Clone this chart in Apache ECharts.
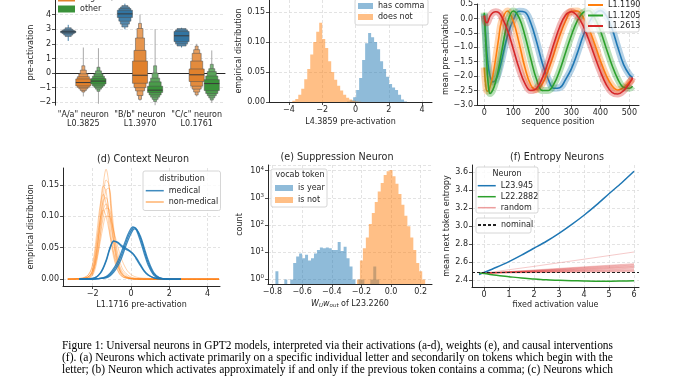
<!DOCTYPE html>
<html><head><meta charset="utf-8"><title>Universal neurons in GPT2</title>
<script src="https://cdn.jsdelivr.net/npm/echarts@6.0.0/dist/echarts.min.js"></script>
<style>html,body{margin:0;padding:0;background:#fff}#chart{width:678px;height:381px}</style>
</head><body><div id="chart"></div>
<script>
// ---------------- (a) letter neurons : boxen plots ----------------
const aCategories = ['"A/a" neuron\nL0.3825', '"B/b" neuron\nL1.3970', '"C/c" neuron\nL0.1761'];
const aHueNames = ['letter', 'begin w/ letter', 'other'];
const aYTicks = [-2, -1, 0, 1, 2, 3, 4];
const letterMedian = [2.82, 4.05, 2.55];
const letterLevels = [
  [[2.76, 2.88], [2.7, 2.93], [2.6, 3.0], [2.5, 3.1]],
  [[3.8, 4.3], [3.55, 4.42], [3.35, 4.52], [3.15, 4.62]],
  [[2.15, 2.85], [2.0, 2.95], [1.85, 3.05]]
];
const letterRange = [[2.2, 3.3], [3.0, 4.75], [1.75, 3.1]];
const beginMedian = [-0.65, -0.15, -0.12];
const beginLevels = [
  [[-0.88, -0.4], [-0.98, -0.25], [-1.08, -0.05], [-1.2, 0.2], [-1.3, 0.5]],
  [[-0.7, 0.82], [-1.0, 1.55], [-1.22, 2.4], [-1.54, 3.05], [-1.8, 3.4]],
  [[-0.58, 0.28], [-0.9, 0.82], [-1.1, 1.35], [-1.3, 1.6], [-1.5, 1.85]]
];
const beginRange = [[-1.6, 1.75], [-1.9, 4.0], [-1.6, 2.0]];
const otherMedian = [-0.55, -1.17, -0.72];
const otherLevels = [
  [[-0.75, -0.38], [-0.88, -0.22], [-0.98, -0.05], [-1.1, 0.15], [-1.25, 0.4]],
  [[-1.33, -0.9], [-1.5, -0.6], [-1.65, -0.35], [-1.8, 0.0], [-1.95, 0.5]],
  [[-1.2, -0.45], [-1.4, -0.2], [-1.55, 0.1], [-1.7, 0.3], [-1.85, 0.6]]
];
const otherRange = [[-2.1, 1.7], [-2.2, 3.0], [-2.05, 1.55]];

// ---------------- (b) comma neuron histograms ----------------
const bXTicks = [-4, -2, 0, 2, 4];
const bYTicks = [0, 0.05, 0.1, 0.15];
const bBinWidth = 0.18;
const commaBinCenters = [-0.41, -0.23, -0.05, 0.13, 0.31, 0.49, 0.67, 0.85, 1.03, 1.21, 1.39, 1.57, 1.75, 1.93, 2.11, 2.29, 2.47, 2.65, 2.83, 3.01];
const commaDensity = [0.001, 0.003, 0.008, 0.02, 0.04, 0.07, 0.098, 0.115, 0.108, 0.1, 0.088, 0.068, 0.055, 0.042, 0.03, 0.024, 0.02, 0.012, 0.004, 0.001];
const noCommaBinCenters = [-3.71, -3.53, -3.35, -3.17, -2.99, -2.81, -2.63, -2.45, -2.27, -2.09, -1.91, -1.73, -1.55, -1.37, -1.19, -1.01, -0.83, -0.65, -0.47, -0.29, -0.11, 0.07, 0.25];
const noCommaDensity = [0.002, 0.005, 0.012, 0.022, 0.038, 0.055, 0.079, 0.1, 0.117, 0.132, 0.105, 0.09, 0.068, 0.05, 0.037, 0.027, 0.019, 0.012, 0.007, 0.004, 0.002, 0.001, 0.0005];

// ---------------- (c) position neurons ----------------
const cXTicks = [0, 100, 200, 300, 400, 500];
const seqPos = [0, 5, 10, 15, 20, 30, 40, 50, 60, 80, 100, 120, 140, 160, 180, 200, 220, 240, 260, 280, 300, 320, 340, 360, 380, 400, 420, 440, 460, 480, 500, 511];
const posL1_1103 = [0.15, -0.6, -1.3, -1.75, -2.0, -2.2, -2.12, -1.85, -1.45, -0.6, -0.05, 0.25, 0.22, -0.15, -0.8, -1.55, -2.1, -2.42, -2.4, -2.12, -1.75, -1.22, -0.62, -0.15, 0.15, 0.27, 0.1, -0.35, -1.0, -1.6, -1.95, -2.05];
const posL1_1190 = [-1.7, -2.3, -2.52, -2.5, -2.37, -1.96, -1.35, -0.67, -0.09, 0.26, -0.1, -0.85, -1.7, -2.3, -2.47, -2.26, -1.8, -1.22, -0.6, -0.09, 0.25, 0.26, 0.06, -0.34, -0.88, -1.46, -1.97, -2.33, -2.48, -2.4, -2.2, -2.1];
const posL1_1205 = [0.2, -0.8, -1.8, -2.4, -2.6, -2.47, -2.16, -1.7, -1.16, -0.15, 0.26, 0.03, -0.59, -1.39, -2.11, -2.5, -2.5, -2.27, -1.8, -1.19, -0.59, -0.09, 0.2, 0.27, 0.03, -0.43, -1.03, -1.62, -2.1, -2.39, -2.42, -2.35];
const posL1_2613 = [0.1, -0.12, -0.15, -0.05, 0.08, 0.2, 0.23, 0.2, 0.06, -0.41, -1.06, -1.73, -2.25, -2.5, -2.43, -2.07, -1.51, -0.87, -0.29, 0.11, 0.23, 0.09, -0.24, -0.74, -1.3, -1.84, -2.29, -2.56, -2.62, -2.5, -2.25, -2.05];

// ---------------- (d) context neuron KDEs ----------------
const dXTicks = [-2, 0, 2, 4];
const dYTicks = [0, 0.05, 0.1, 0.15];
const ctxNonMedGrid = [-3.3, -2.5, -2.2, -2.0, -1.8, -1.6, -1.45, -1.3, -1.15, -1.0, -0.8, -0.6, -0.4, -0.1, 0.3, 1.0, 2.0, 4.6];
const ctxNonMed = [
  [0, 0, 0.002, 0.01, 0.04, 0.1, 0.15, 0.175, 0.15, 0.09, 0.035, 0.012, 0.004, 0.001, 0, 0, 0, 0],
  [0, 0, 0.002, 0.008, 0.035, 0.085, 0.13, 0.158, 0.15, 0.1, 0.045, 0.015, 0.005, 0.001, 0, 0, 0, 0],
  [0, 0.001, 0.004, 0.015, 0.055, 0.115, 0.148, 0.14, 0.1, 0.06, 0.025, 0.009, 0.003, 0.001, 0, 0, 0, 0],
  [0, 0, 0.001, 0.006, 0.025, 0.07, 0.115, 0.142, 0.145, 0.11, 0.055, 0.02, 0.007, 0.002, 0, 0, 0, 0],
  [0, 0.001, 0.004, 0.014, 0.045, 0.095, 0.125, 0.13, 0.11, 0.075, 0.038, 0.016, 0.006, 0.002, 0, 0, 0, 0],
  [0, 0.001, 0.005, 0.016, 0.045, 0.085, 0.11, 0.12, 0.108, 0.08, 0.045, 0.022, 0.01, 0.003, 0.001, 0, 0, 0],
  [0, 0.001, 0.004, 0.012, 0.035, 0.07, 0.098, 0.113, 0.112, 0.092, 0.058, 0.03, 0.014, 0.005, 0.001, 0, 0, 0],
  [0, 0.002, 0.008, 0.022, 0.058, 0.097, 0.11, 0.1, 0.078, 0.055, 0.03, 0.015, 0.006, 0.002, 0, 0, 0, 0],
  [0, 0.001, 0.004, 0.01, 0.03, 0.06, 0.085, 0.1, 0.1, 0.088, 0.065, 0.042, 0.025, 0.01, 0.003, 0.001, 0, 0],
  [0, 0.002, 0.008, 0.025, 0.07, 0.12, 0.135, 0.12, 0.085, 0.05, 0.022, 0.008, 0.003, 0.001, 0, 0, 0, 0]
];
const ctxMedGrid = [-2.7, -2.0, -1.6, -1.3, -1.1, -0.9, -0.7, -0.5, -0.3, -0.1, 0.1, 0.2, 0.3, 0.5, 0.7, 0.9, 1.2, 1.5, 2.0, 2.6];
const ctxMed = [
  [0, 0, 0.001, 0.003, 0.007, 0.014, 0.024, 0.038, 0.055, 0.071, 0.081, 0.082, 0.079, 0.065, 0.045, 0.026, 0.008, 0.002, 0, 0],
  [0, 0, 0.001, 0.002, 0.005, 0.011, 0.02, 0.033, 0.05, 0.066, 0.078, 0.08, 0.079, 0.068, 0.049, 0.03, 0.01, 0.002, 0, 0],
  [0, 0, 0.001, 0.004, 0.009, 0.017, 0.028, 0.043, 0.06, 0.075, 0.083, 0.082, 0.077, 0.06, 0.04, 0.022, 0.006, 0.001, 0, 0],
  [0, 0.001, 0.01, 0.03, 0.05, 0.061, 0.058, 0.052, 0.048, 0.045, 0.04, 0.036, 0.031, 0.021, 0.012, 0.006, 0.002, 0, 0, 0],
  [0, 0.001, 0.009, 0.028, 0.048, 0.06, 0.059, 0.054, 0.05, 0.046, 0.041, 0.037, 0.033, 0.023, 0.013, 0.007, 0.002, 0.001, 0, 0]
];

// ---------------- (e) suppression neuron (log histogram) ----------------
const eXTicks = [-0.8, -0.6, -0.4, -0.2, 0.0, 0.2];
const eBinWidth = 0.02;
const yearBinCenters = [-0.77, -0.71, -0.67, -0.65, -0.63, -0.61, -0.59, -0.57, -0.55, -0.53, -0.51, -0.49, -0.47, -0.45, -0.43, -0.41, -0.39, -0.37, -0.35, -0.33, -0.31, -0.29, -0.27, -0.25, -0.21, -0.19, -0.13, -0.11, -0.09];
const yearCounts = [2, 1, 1, 4, 7, 9, 6, 8, 5, 6, 9, 12, 15, 14, 15, 14, 12, 12, 24, 11, 16, 6, 3, 1, 1, 1, 1, 3, 1];
const notYearBinCenters = [-0.22, -0.2, -0.18, -0.16, -0.14, -0.12, -0.1, -0.08, -0.06, -0.04, -0.02, 0.0, 0.02, 0.04, 0.06, 0.08, 0.1, 0.12, 0.14, 0.16, 0.18, 0.2, 0.22];
const notYearCounts = [1, 5, 14, 35, 110, 280, 700, 1700, 3500, 7000, 9500, 10500, 6300, 3300, 1400, 560, 220, 90, 35, 12, 4, 2, 1];

// ---------------- (f) entropy neurons ----------------
const fXTicks = [0, 1, 2, 3, 4, 5, 6];
const fYTicks = [2.4, 2.6, 2.8, 3.0, 3.2, 3.4, 3.6];
const fixedAct = [-0.2, 0, 0.5, 1, 1.5, 2, 2.5, 3, 3.5, 4, 4.5, 5, 5.5, 6];
const entL23_945 = [2.46, 2.482, 2.54, 2.603, 2.675, 2.752, 2.83, 2.918, 3.015, 3.12, 3.235, 3.36, 3.48, 3.61];
const entL22_2882 = [2.475, 2.47, 2.45, 2.435, 2.42, 2.41, 2.4, 2.395, 2.39, 2.387, 2.385, 2.385, 2.387, 2.39];
const randomAct = [-0.2, 0, 2, 4, 6];
const entRandom = [
  [2.47, 2.475, 2.55, 2.63, 2.71],
  [2.47, 2.475, 2.51, 2.545, 2.58],
  [2.47, 2.475, 2.505, 2.54, 2.572],
  [2.47, 2.475, 2.503, 2.535, 2.565],
  [2.47, 2.475, 2.5, 2.53, 2.558],
  [2.47, 2.475, 2.498, 2.525, 2.55],
  [2.47, 2.475, 2.496, 2.52, 2.545],
  [2.47, 2.475, 2.494, 2.515, 2.538],
  [2.47, 2.475, 2.492, 2.51, 2.53],
  [2.47, 2.475, 2.49, 2.505, 2.52],
  [2.47, 2.475, 2.488, 2.5, 2.512],
  [2.47, 2.475, 2.486, 2.497, 2.505],
  [2.47, 2.475, 2.483, 2.49, 2.497],
  [2.47, 2.475, 2.48, 2.485, 2.49]
];
const nominalEntropy = 2.475;

// ---------------- caption ----------------
const captionLines = [
  'Figure 1: Universal neurons in GPT2 models, interpreted via their activations (a-d), weights (e), and causal interventions',
  '(f). (a) Neurons which activate primarily on a specific individual letter and secondarily on tokens which begin with the',
  'letter; (b) Neuron which activates approximately if and only if the previous token contains a comma; (c) Neurons which'
];

// =====================================================================
const TXT = '#262626';
const FONT = 'DejaVu Sans';
const GRIDC = '#dcdcdc';
const FS = 8;
const C_BLUE = '#1f77b4', C_ORANGE = '#ff7f0e', C_GREEN = '#2ca02c', C_RED = '#d62728';
const minus = s => String(s).replace(/-/g, '\u2212');

function valueAxis(gi, min, max, ticks, fmt, extra) {
  const ax = {
    type: 'value', gridIndex: gi, min: min, max: max,
    axisLine: {show: true, onZero: false, lineStyle: {color: TXT, width: 1}},
    axisTick: {show: true, length: 3, lineStyle: {color: TXT, width: 0.8}},
    axisLabel: {formatter: v => minus(fmt(v)), fontSize: FS, color: TXT, fontFamily: FONT, margin: 4},
    splitLine: {show: true, lineStyle: {color: GRIDC, type: [3, 2], width: 0.8}},
    nameLocation: 'middle',
    nameTextStyle: {fontSize: FS, color: TXT, fontFamily: FONT}
  };
  if (ticks) { ax.axisTick.customValues = ticks; ax.axisLabel.customValues = ticks; }
  return Object.assign(ax, extra || {});
}

function mix(hex, t) { // mix with white
  const n = parseInt(hex.slice(1), 16);
  const r = (n >> 16) & 255, g = (n >> 8) & 255, b = n & 255;
  const f = c => Math.round(c + (255 - c) * t);
  return 'rgb(' + f(r) + ',' + f(g) + ',' + f(b) + ')';
}

function boxenSeries(name, hueIdx, medians, levels, ranges, color) {
  return {
    type: 'custom', name: name, coordinateSystem: 'cartesian2d', xAxisIndex: 0, yAxisIndex: 0,
    itemStyle: {color: color}, silent: true, z: 3,
    data: medians.map((m, i) => [i, m]),
    encode: {x: 0, y: 1},
    renderItem: function (params, api) {
      const i = params.dataIndex;
      const band = api.size([1, 0])[0];
      const w = band * 0.8 / 3;
      const cx = api.coord([i, 0])[0] + (hueIdx - 1) * w;
      const kids = [];
      const r = ranges[i];
      const pa = api.coord([i, r[0]]), pb = api.coord([i, r[1]]);
      kids.push({type: 'line', shape: {x1: cx, y1: pa[1], x2: cx, y2: pb[1]},
        style: {stroke: hueIdx === 0 ? color : '#a0a0a0', lineWidth: 1, opacity: 0.9}});
      const lv = levels[i];
      for (let k = lv.length - 1; k >= 0; k--) {
        const bw = w * (1 - k * 0.2);
        const top = api.coord([i, lv[k][1]])[1], bot = api.coord([i, lv[k][0]])[1];
        kids.push({type: 'rect', shape: {x: cx - bw / 2, y: top, width: bw, height: bot - top},
          style: {fill: mix(color, k * 0.08), stroke: '#505050', lineWidth: 0.5}});
      }
      const my = api.coord([i, medians[i]])[1];
      kids.push({type: 'line', shape: {x1: cx - w / 2, y1: my, x2: cx + w / 2, y2: my},
        style: {stroke: '#3a3a3a', lineWidth: 1}});
      return {type: 'group', children: kids};
    }
  };
}

function histSeries(name, gi, centers, values, binW, color, base) {
  return {
    type: 'custom', name: name, coordinateSystem: 'cartesian2d', xAxisIndex: gi, yAxisIndex: gi,
    itemStyle: {color: color}, silent: true, z: 2,
    data: centers.map((c, i) => [c, values[i]]),
    encode: {x: 0, y: 1},
    renderItem: function (params, api) {
      if (params.dataIndex !== 0) return null;
      const pts = [];
      let prevRight = null;
      for (let i = 0; i < centers.length; i++) {
        const l = centers[i] - binW / 2, r = centers[i] + binW / 2;
        const v = Math.max(values[i], base);
        if (prevRight === null) pts.push(api.coord([l, base]));
        else if (Math.abs(l - prevRight) > binW * 0.01) {
          pts.push(api.coord([prevRight, base]));
          pts.push(api.coord([l, base]));
        }
        pts.push(api.coord([l, v]));
        pts.push(api.coord([r, v]));
        prevRight = r;
      }
      pts.push(api.coord([prevRight, base]));
      return {type: 'polygon', shape: {points: pts}, style: {fill: color}};
    }
  };
}

function lineData(xs, ys) { return xs.map((x, i) => [x, ys[i]]); }

const series = [];
// (a)
series.push(boxenSeries('letter', 0, letterMedian, letterLevels, letterRange, '#3274a1'));
series.push(boxenSeries('begin w/ letter', 1, beginMedian, beginLevels, beginRange, '#e1812c'));
series.push(boxenSeries('other', 2, otherMedian, otherLevels, otherRange, '#3a923a'));
// (b)
series.push(histSeries('has comma', 1, commaBinCenters, commaDensity, bBinWidth, 'rgba(31,119,180,0.5)', 0));
series.push(histSeries('does not', 1, noCommaBinCenters, noCommaDensity, bBinWidth, 'rgba(255,127,14,0.5)', 0));
// (c)
const posSeries = [['L1.1103', posL1_1103, C_BLUE], ['L1.1190', posL1_1190, C_ORANGE], ['L1.1205', posL1_1205, C_GREEN], ['L1.2613', posL1_2613, C_RED]];
posSeries.forEach(function (p) {
  series.push({type: 'line', name: p[0] + ' band', xAxisIndex: 2, yAxisIndex: 2, data: lineData(seqPos, p[1]),
    smooth: 0.4, symbol: 'none', silent: true, z: 2,
    lineStyle: {color: p[2], width: 7, opacity: 0.33}, itemStyle: {color: p[2]}});
  series.push({type: 'line', name: p[0], xAxisIndex: 2, yAxisIndex: 2, data: lineData(seqPos, p[1]),
    smooth: 0.4, symbol: 'none', silent: true, z: 2,
    lineStyle: {color: p[2], width: 1.6}, itemStyle: {color: p[2]}});
});
// (d)
ctxNonMed.forEach(function (arr) {
  series.push({type: 'line', name: 'non-medical', xAxisIndex: 3, yAxisIndex: 3, data: lineData(ctxNonMedGrid, arr),
    smooth: 0.35, symbol: 'none', silent: true, z: 2,
    lineStyle: {color: C_ORANGE, width: 1, opacity: 0.35}, itemStyle: {color: C_ORANGE}});
});
ctxMed.forEach(function (arr) {
  series.push({type: 'line', name: 'medical', xAxisIndex: 3, yAxisIndex: 3, data: lineData(ctxMedGrid, arr),
    smooth: 0.35, symbol: 'none', silent: true, z: 2,
    lineStyle: {color: C_BLUE, width: 1.3, opacity: 0.85}, itemStyle: {color: C_BLUE}});
});
// (e)
const eBase = 0.676;
series.push(histSeries('is year', 4, yearBinCenters, yearCounts, eBinWidth, 'rgba(31,119,180,0.5)', eBase));
series.push(histSeries('is not', 4, notYearBinCenters, notYearCounts, eBinWidth, 'rgba(255,127,14,0.5)', eBase));
// (f)
entRandom.forEach(function (arr) {
  series.push({type: 'line', name: 'random', xAxisIndex: 5, yAxisIndex: 5, data: lineData(randomAct, arr),
    symbol: 'none', silent: true, z: 2,
    lineStyle: {color: C_RED, width: 0.9, opacity: 0.28}, itemStyle: {color: C_RED}});
});
series.push({type: 'line', name: 'L23.945', xAxisIndex: 5, yAxisIndex: 5, data: lineData(fixedAct, entL23_945),
  smooth: 0.3, symbol: 'none', silent: true, z: 3, lineStyle: {color: C_BLUE, width: 1.5}, itemStyle: {color: C_BLUE}});
series.push({type: 'line', name: 'L22.2882', xAxisIndex: 5, yAxisIndex: 5, data: lineData(fixedAct, entL22_2882),
  smooth: 0.3, symbol: 'none', silent: true, z: 3, lineStyle: {color: C_GREEN, width: 1.5}, itemStyle: {color: C_GREEN}});
series.push({type: 'line', name: 'nominal', xAxisIndex: 5, yAxisIndex: 5, data: [], symbol: 'none', silent: true, z: 4,
  lineStyle: {color: '#222', width: 1, type: [3, 2]}, itemStyle: {color: '#222'},
  markLine: {silent: true, symbol: 'none', label: {show: false}, animation: false,
    lineStyle: {color: '#222', width: 1, type: [3, 2]}, data: [{yAxis: nominalEntropy}]}});

// ---------------- axes ----------------
const grids = [
  {left: 55, top: -6.8, width: 170, height: 112},
  {left: 269, top: -10.2, width: 163, height: 112.2},
  {left: 477, top: -7, width: 162, height: 112},
  {left: 63, top: 168, width: 157, height: 118},
  {left: 268, top: 165, width: 164, height: 119},
  {left: 472, top: 165, width: 167, height: 122}
];

const xAxes = [
  {type: 'category', gridIndex: 0, data: aCategories, boundaryGap: true,
    axisLine: {lineStyle: {color: TXT, width: 1}},
    axisTick: {alignWithLabel: true, length: 3, lineStyle: {color: TXT, width: 0.8}},
    axisLabel: {interval: 0, fontSize: FS, lineHeight: 9, color: TXT, fontFamily: FONT, margin: 5},
    splitLine: {show: false}},
  valueAxis(1, -5.2, 4.6, bXTicks, v => String(v), {name: 'L4.3859 pre-activation', nameGap: 16}),
  valueAxis(2, -25, 533, cXTicks, v => String(v), {name: 'sequence position', nameGap: 13}),
  valueAxis(3, -3.55, 4.65, dXTicks, v => String(v), {name: 'L1.1716 pre-activation', nameGap: 15}),
  valueAxis(4, -0.83, 0.276, eXTicks, v => v.toFixed(1), {
    name: '{i|W}{s|U}{i|w}{s|out} of L23.2260', nameGap: 15,
    nameTextStyle: {fontSize: FS, color: TXT, fontFamily: FONT,
      rich: {i: {fontStyle: 'italic', fontSize: FS, color: TXT, fontFamily: FONT},
             s: {fontStyle: 'italic', fontSize: 5.5, color: TXT, fontFamily: FONT, verticalAlign: 'bottom', padding: [4, 0, 0, 0]}}}}),
  valueAxis(5, -0.48, 6.2, fXTicks, v => String(v), {name: 'fixed activation value', nameGap: 14})
];

const yAxes = [
  valueAxis(0, -2.2, 5, aYTicks, v => String(v), {name: 'pre-activation', nameGap: 18}),
  valueAxis(1, 0, 0.17, bYTicks, v => v.toFixed(2), {name: 'empirical distribution', nameGap: 25}),
  valueAxis(2, -3, 0.5, null, v => v.toFixed(1), {name: 'mean pre-activation', nameGap: 26, interval: 0.5}),
  valueAxis(3, -0.011, 0.177, dYTicks, v => v.toFixed(2), {name: 'empirical distribution', nameGap: 28}),
  {type: 'log', gridIndex: 4, logBase: 10, min: eBase, max: 16200,
    axisLine: {show: true, onZero: false, lineStyle: {color: TXT, width: 1}},
    axisTick: {show: true, length: 3, lineStyle: {color: TXT, width: 0.8}},
    axisLabel: {fontSize: FS, color: TXT, fontFamily: FONT, margin: 4,
      formatter: v => '{b|10}{s|' + Math.round(Math.log10(v)) + '}',
      rich: {b: {fontSize: FS, color: TXT, fontFamily: FONT}, s: {fontSize: 5.5, color: TXT, fontFamily: FONT, verticalAlign: 'top', padding: [0, 0, 5, 0]}}},
    splitLine: {show: true, lineStyle: {color: GRIDC, type: [3, 2], width: 0.8}},
    minorTick: {show: false},
    name: 'count', nameLocation: 'middle', nameGap: 24,
    nameTextStyle: {fontSize: FS, color: TXT, fontFamily: FONT}},
  valueAxis(5, 2.32, 3.68, fYTicks, v => v.toFixed(1), {name: 'mean next token entropy', nameGap: 21})
];

// ---------------- legends ----------------
const lgText = {fontSize: FS, color: TXT, fontFamily: FONT};
const noSym = {opacity: 0, borderWidth: 0};
const legends = [
  {left: 58, top: -17, orient: 'vertical', data: aHueNames, icon: 'rect', itemWidth: 17, itemHeight: 7, itemGap: 3, padding: 0, textStyle: lgText, selectedMode: false, z: 6},
  {left: 358, top: 2, orient: 'vertical', data: ['has comma', 'does not'], icon: 'rect', itemWidth: 15, itemHeight: 6, itemGap: 3, padding: 0, textStyle: lgText, selectedMode: false, z: 6},
  {left: 587, top: -9.5, orient: 'vertical', data: ['L1.1103', 'L1.1190', 'L1.1205', 'L1.2613'], itemWidth: 15, itemHeight: 8, itemGap: 2.5, padding: 0, textStyle: lgText, selectedMode: false, z: 6,
    lineStyle: {width: 2}, itemStyle: noSym},
  {left: 145, top: 186.7, orient: 'vertical', data: ['medical', {name: 'non-medical', lineStyle: {opacity: 0.6}}], itemWidth: 18, itemHeight: 8, itemGap: 3.3, padding: 0, textStyle: lgText, selectedMode: false, z: 6,
    lineStyle: {width: 1.5}, itemStyle: noSym},
  {left: 275, top: 184, orient: 'vertical', data: ['is year', 'is not'], icon: 'rect', itemWidth: 18, itemHeight: 6, itemGap: 4, padding: 0, textStyle: lgText, selectedMode: false, z: 6},
  {left: 477, top: 181.7, orient: 'vertical', data: ['L23.945', 'L22.2882', {name: 'random', lineStyle: {opacity: 0.45}}], itemWidth: 18, itemHeight: 8, itemGap: 3, padding: 0, textStyle: lgText, selectedMode: false, z: 6,
    lineStyle: {width: 1.5}, itemStyle: noSym},
  {left: 477, top: 221, orient: 'vertical', data: ['nominal'], itemWidth: 18, itemHeight: 8, padding: 0, textStyle: lgText, selectedMode: false, z: 6,
    itemStyle: noSym}
];

// ---------------- graphic: legend frames, titles, caption ----------------
function frame(x, y, w, h) {
  return {type: 'rect', z: 5, shape: {x: x, y: y, width: w, height: h, r: 2},
    style: {fill: 'rgba(255,255,255,0.8)', stroke: '#cccccc', lineWidth: 0.8}, silent: true};
}
function txt(x, y, s, size, align) {
  return {type: 'text', z: 7, x: x, y: y, silent: true,
    style: {text: s, fontSize: size, fontFamily: FONT, fill: TXT, textAlign: align || 'center', textVerticalAlign: 'middle'}};
}
const graphics = [
  frame(355, -1, 73, 26),
  frame(585, -13, 54, 45),
  frame(143, 171, 77.5, 39.5),
  frame(271, 169, 56, 38),
  frame(476, 167, 62, 46),
  frame(476, 218, 55, 15),
  txt(182, 178.5, 'distribution', FS),
  txt(300, 175, 'vocab token', FS),
  txt(507, 174, 'Neuron', FS),
  txt(143, 159, '(d) Context Neuron', 9.6),
  txt(337, 157, '(e) Suppression Neuron', 9.6),
  txt(557, 157, '(f) Entropy Neurons', 9.6)
];
const capX0 = 62, capX1 = 613, capY = [346, 357.8, 369.6], capFont = 12;
const meas = document.createElement('canvas').getContext('2d');
meas.font = capFont + 'px "Liberation Serif"';
captionLines.forEach(function (line, i) {
  const w = meas.measureText(line).width;
  graphics.push({type: 'text', z: 7, x: capX0, y: capY[i], scaleX: (capX1 - capX0) / w, silent: true,
    style: {text: line, fontSize: capFont, fontFamily: 'Liberation Serif', fill: '#000', textAlign: 'left', textVerticalAlign: 'middle'}});
});

const chart = echarts.init(document.getElementById('chart'), null, {renderer: 'canvas', width: 678, height: 381});
chart.setOption({
  animation: false,
  backgroundColor: '#ffffff',
  textStyle: {fontFamily: FONT},
  grid: grids,
  xAxis: xAxes,
  yAxis: yAxes,
  legend: legends,
  series: series,
  graphic: {elements: graphics}
});
</script>
</body></html>
